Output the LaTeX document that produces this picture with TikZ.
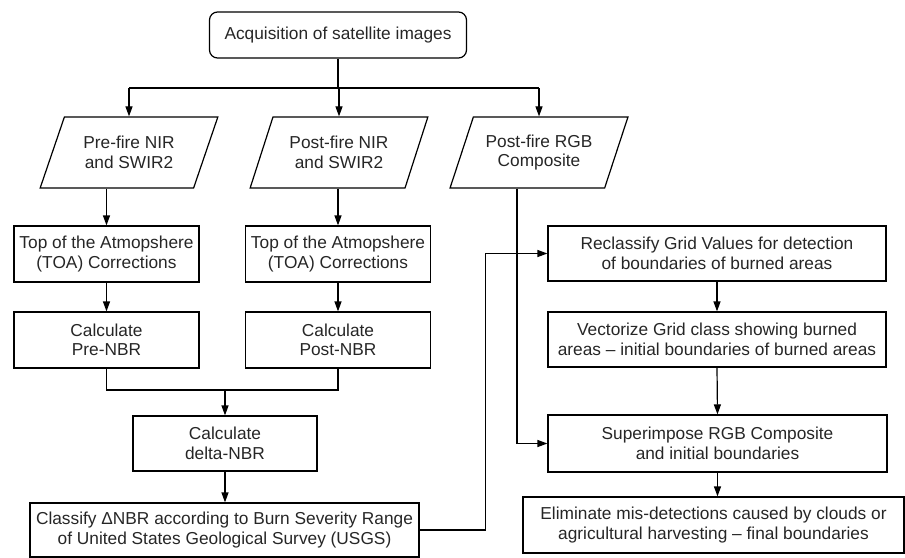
\documentclass[tikz,border=0pt]{standalone}
\usepackage{fontspec}
\setmainfont{Liberation Sans}
\usepackage{tikz}
\usetikzlibrary{arrows.meta,shapes.geometric}
\tikzstyle{every picture}+=[x=1pt,y=-1pt]
\tikzstyle{box} = [draw,line width=1.2pt,align=center,inner sep=0pt,font=\fontsize{17.3}{19.5}\selectfont,text=black!85]
\tikzstyle{start} = [box,rounded corners=8pt,minimum width=257pt,minimum height=46pt]
\tikzstyle{data} = [box,trapezium,trapezium left angle=62,trapezium right angle=118,trapezium stretches=true,minimum width=178pt,minimum height=71pt]
\tikzstyle{stage} = [box,minimum height=56pt]
\tikzstyle{wire} = [line width=1.2pt]
\tikzstyle{flow} = [wire,-{Triangle[length=10pt,width=7pt]}]

\begin{document}
\begin{tikzpicture}
    \useasboundingbox (0,0) rectangle (905,557);
    \node[start] (acq) at (338,35) {Acquisition of satellite images};
    \node[data] (pre) at (129,152.5) {Pre-fire NIR\\and SWIR2};
    \node[data] (post) at (339,152.5) {Post-fire NIR\\and SWIR2};
    \node[data] (rgb) at (539,152.5) {Post-fire RGB\\Composite};
    \node[stage,minimum width=185pt] (toapre) at (106.5,254) {Top of the Atmopshere\\(TOA) Corrections};
    \node[stage,minimum width=185pt] (toapost) at (338,254) {Top of the Atmopshere\\(TOA) Corrections};
    \node[stage,minimum width=185pt] (nbrpre) at (106.5,340) {Calculate\\Pre-NBR};
    \node[stage,minimum width=185pt] (nbrpost) at (338,340) {Calculate\\Post-NBR};
    \node[stage,minimum width=184pt,minimum height=55pt] (dnbr) at (225,443.5) {Calculate\\delta-NBR};
    \node[stage,minimum width=389pt,minimum height=54pt] (cls) at (224.5,530) {Classify ΔNBR according to Burn Severity Range\\of United States Geological Survey (USGS)};
    \node[stage,minimum width=338pt,minimum height=55pt] (recl) at (717,253.5) {Reclassify Grid Values for detection\\of boundaries of burned areas};
    \node[stage,minimum width=338pt,minimum height=55pt] (vect) at (717,339.5) {Vectorize Grid class showing burned\\areas – initial boundaries of burned areas};
    \node[stage,minimum width=339pt,minimum height=57pt] (supimp) at (717.5,443.5) {Superimpose RGB Composite\\and initial boundaries};
    \node[stage,minimum width=381pt] (elim) at (713.5,525) {Eliminate mis-detections caused by clouds or\\agricultural harvesting – final boundaries};
    \coordinate (split) at (338,88);
    \coordinate (join) at (225,390);
    \draw[wire] (acq.south) -- (split);
    \draw[wire] (pre.north |- split) -- (rgb.north |- split);
    \foreach \n in {pre,post,rgb} {
        \draw[flow] (\n.north |- split) -- (\n.north);
    }
    \draw[flow] (toapre.north |- pre.south) -- (toapre.north);
    \draw[flow] (toapost.north |- post.south) -- (toapost.north);
    \draw[flow] (toapre.south) -- (nbrpre.north);
    \draw[flow] (toapost.south) -- (nbrpost.north);
    \draw[wire] (nbrpre.south) |- (join) -| (nbrpost.south);
    \draw[flow] (join) -- (dnbr.north);
    \draw[flow] (dnbr.south) -- (dnbr.south |- cls.north);
    \draw[flow] (cls.east) -- ++(66,0) |- (recl.west);
    \draw[flow] ([xshift=-22pt]rgb.south) |- (supimp.west);
    \draw[flow] (recl.south) -- (vect.north);
    \draw[flow] (vect.south) -- (supimp.north);
    \draw[flow] (supimp.south) -- (supimp.south |- elim.north);
\end{tikzpicture}
\end{document}
